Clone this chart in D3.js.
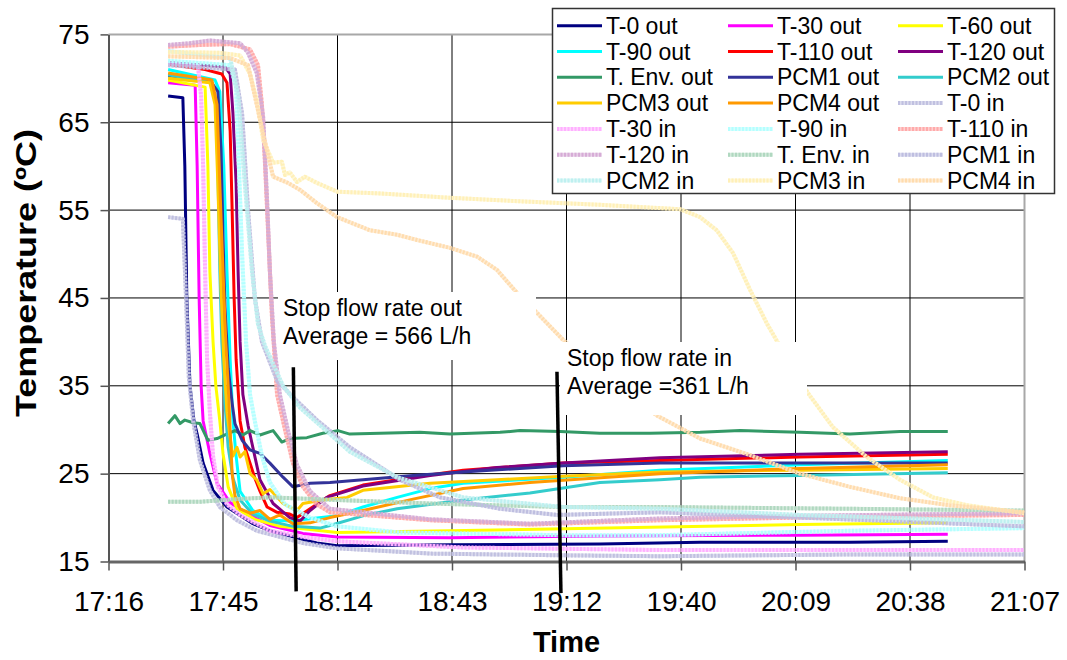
<!DOCTYPE html>
<html><head><meta charset="utf-8">
<script src="https://cdn.jsdelivr.net/npm/d3@7"></script>
<style>body{margin:0;background:#fff} text{font-family:Arial,"Liberation Sans",sans-serif}</style>
</head><body>
<svg id="c" width="1067" height="660"></svg>
<script>
// ---- DATA (time = minutes after 17:00, temperature in ºC) ----
const timeLabels = ["17:16","17:45","18:14","18:43","19:12","19:40","20:09","20:38","21:07"];
const timeTicks = [16.8,45.6,74.4,103.2,132.0,160.8,189.6,218.4,247.2];
const tempTicks = [15,25,35,45,55,65,75];

const T0out = [[31.8,68.0],[35.5,67.8],[36.0,60],[36.5,45],[37.3,35],[38.3,31],[39.1,29.5],[40.6,26.2],[43.1,23.1],[46.6,21.2],[53.1,19.3],[57.4,18.5],[63.2,17.8],[69.2,17.1],[74.3,16.8],[102.7,16.9],[140.4,17.0],[165.6,17.2],[203.3,17.2],[227.9,17.3]];
const T30out = [[31.8,69.5],[38.6,69.2],[39.1,60],[39.6,45],[40.1,35],[40.6,31],[42.3,27.3],[44.1,23.9],[47.4,21.7],[51.6,20.5],[57.4,19.1],[65.7,18.2],[74.3,17.8],[102.7,17.7],[140.4,17.9],[190.7,18.0],[227.9,18.1]];
const T60out = [[31.8,69.8],[41.1,69.0],[41.8,60],[42.3,48],[43.1,40],[43.8,35],[44.8,31],[45.6,27.3],[46.9,23.5],[49.1,21],[53.6,19.8],[59.9,19.0],[74.3,18.3],[102.7,18.5],[153.0,18.9],[190.7,19.2],[227.9,19.4]];
const T90out = [[31.8,71.0],[43.6,69.8],[44.8,68.5],[45.8,60],[46.6,48],[47.4,38],[48.1,31],[48.9,27],[49.9,23],[53.1,20.8],[57.4,19.7],[62.4,19.6],[74.3,20.2],[80.8,21.2],[89.4,22.3],[97.7,23.3],[106.0,23.9],[131.2,24.6],[155.5,25.4],[190.7,26.0],[227.9,26.5]];
const T110out = [[31.8,71.6],[41.1,71.0],[45.3,70.5],[46.6,69.5],[47.4,64],[47.9,55],[48.4,45],[48.9,38],[49.9,31],[51.1,28],[52.4,26.2],[53.6,24.5],[54.9,23],[56.7,21.2],[59.2,20.6],[62.4,20.4],[64.2,20.0],[67.5,21],[72.5,22.5],[80.8,23.7],[93.4,24.6],[106.0,25.4],[131.2,26.2],[155.5,26.5],[190.7,26.9],[227.9,27.2]];
const T120out = [[31.8,71.8],[46.1,71.3],[47.4,70.5],[48.1,66],[48.9,58],[49.4,48],[49.9,40],[50.6,34],[51.9,30.5],[53.1,28],[54.9,24.3],[58.2,21.6],[62.4,20.0],[65.0,19.6],[67.5,20.8],[71.7,22.3],[80.8,23.6],[97.7,24.8],[114.5,25.7],[131.2,26.2],[155.5,26.8],[190.7,27.2],[227.9,27.5]];
const TEnvOut = [[31.8,30.7],[33.5,31.6],[34.8,30.7],[36.0,31.1],[38.1,30.8],[39.8,30.7],[41.8,28.8],[44.1,29.0],[46.1,29.4],[48.6,29.9],[50.6,29.4],[52.4,29.9],[54.9,29.4],[58.2,29.9],[60.4,28.6],[62.4,29.0],[66.7,29.1],[70.7,29.6],[74.5,29.9],[77.5,29.5],[85.1,29.6],[95.1,29.7],[102.7,29.5],[115.3,29.7],[120.3,29.9],[130.4,29.8],[140.4,29.6],[153.0,29.6],[165.6,29.7],[175.7,29.9],[190.7,29.7],[203.3,29.5],[215.9,29.8],[227.9,29.8]];
const PCM1out = [[31.8,70.3],[42.3,69.8],[44.3,68.5],[45.1,62],[45.6,52],[46.1,44],[46.9,37],[47.9,33],[48.6,30.7],[50.4,28.8],[52.4,27.7],[54.9,27.3],[57.4,26.2],[60.7,24.6],[63.2,23.5],[67.5,23.9],[72.5,24.0],[80.8,24.3],[93.4,24.8],[106.0,25.2],[131.2,25.9],[155.5,26.2],[190.7,26.2],[227.9,26.2]];
const PCM2out = [[31.8,70.4],[42.8,69.5],[43.8,67],[44.3,60],[44.8,48],[45.3,40],[46.1,33],[46.9,28],[48.1,24.5],[49.9,22],[53.1,20.4],[57.4,19.6],[63.2,19.0],[70.0,18.8],[72.5,19.1],[80.8,20.2],[89.4,21.0],[106.0,22.0],[122.8,22.8],[140.4,24.0],[155.5,24.3],[165.6,24.6],[190.7,24.8],[227.9,25.1]];
const PCM3out = [[31.8,70.0],[42.3,69.5],[43.6,67],[44.3,58],[45.1,46],[45.8,38],[46.6,32],[47.4,29],[48.1,27],[49.1,28],[49.9,26.9],[51.1,27.5],[52.4,25],[54.1,24.3],[55.7,22.7],[57.4,23.2],[60.7,21.6],[62.4,21.2],[64.2,20.8],[65.7,21.6],[70.7,22.0],[76.8,22.3],[80.8,23.1],[97.7,23.9],[114.5,24.3],[131.2,24.7],[155.5,25.2],[190.7,25.4],[227.9,25.6]];
const PCM4out = [[31.8,70.6],[42.8,69.8],[44.1,67],[44.8,58],[45.6,48],[46.3,40],[46.9,35],[47.4,30],[47.9,25],[48.6,22.5],[49.9,21],[52.4,20.5],[54.9,20.8],[57.4,19.8],[59.9,20.3],[63.2,19.3],[67.5,19.4],[72.5,20.0],[80.8,20.8],[93.4,22.1],[106.0,23.3],[122.8,24.0],[155.5,25.0],[190.7,25.6],[227.9,26.0]];
const T0in = [[31.8,54.2],[35.5,54.0],[36.3,45],[37.0,36],[38.1,31],[39.8,26.5],[42.3,23.1],[44.8,21.2],[49.1,19.7],[54.1,18.5],[59.9,17.8],[65.7,17.1],[74.3,16.5],[97.7,15.9],[131.2,15.7],[155.5,15.6],[203.3,15.8],[247.1,15.8]];
const T30in = [[31.8,71.7],[39.3,71.4],[40.1,68],[40.6,60],[41.1,48],[41.6,38],[42.3,32],[43.1,27],[44.3,23.5],[46.6,21.5],[49.9,20.3],[57.4,18.5],[65.7,17.8],[74.3,17.3],[106.0,16.6],[155.5,16.3],[203.3,16.3],[247.1,16.3]];
const T90in = [[31.8,72.0],[47.4,71.5],[48.9,69],[49.6,60],[50.4,50],[51.4,40],[52.4,34],[53.6,31],[55.4,27],[57.4,24],[61.2,21.5],[67.5,20],[74.3,19],[90.1,18.3],[130.4,18.0],[155.5,18.0],[203.3,18.5],[247.1,18.8]];
const T110in = [[31.8,73.6],[39.8,73.8],[47.4,73.9],[52.4,73.3],[54.4,71.5],[55.4,67],[56.2,60],[56.9,53],[57.9,43],[59.2,34],[61.2,30],[63.2,26.2],[65.7,23.5],[69.2,21.5],[72.5,20.6],[97.7,19.7],[122.8,19.2],[155.5,19.7],[190.7,20.0],[247.1,20.3]];
const T120in = [[31.8,73.8],[37.3,74.0],[42.3,74.3],[49.9,74.0],[51.9,72.9],[54.1,70.6],[55.7,65.6],[56.7,56],[57.4,48],[58.4,40],[59.9,34],[61.9,30],[64.2,26],[67.5,23],[72.5,21],[97.7,19.8],[122.8,19.3],[155.5,19.9],[190.7,20.2],[247.1,20.5]];
const TEnvIn = [[31.8,21.8],[39.8,21.8],[49.1,22.1],[57.4,22.3],[74.3,22.0],[97.7,21.6],[131.2,21.2],[155.5,21.2],[203.3,21.0],[247.1,20.8]];
const PCM1in = [[31.8,71.5],[48.6,71.0],[50.4,66],[51.9,55],[53.6,45],[55.4,40],[59.2,35.6],[63.2,33.7],[69.2,31.1],[77.5,28],[90.1,24.3],[100.2,22.3],[115.3,21],[129.6,20.3],[155.5,20.6],[190.7,20.0],[247.1,19.0]];
const PCM2in = [[31.8,73.1],[47.4,72.3],[49.4,68],[51.1,58],[52.9,48],[54.4,42],[56.2,39.5],[60.7,35],[65.0,32.5],[72.5,29.5],[77.5,27.5],[89.4,24.6],[106.0,22.3],[131.2,21.2],[155.5,21.0],[190.7,20.3],[247.1,19.5]];
const PCM3in = [[31.8,73.0],[44.8,72.9],[49.9,72.6],[52.4,70.5],[54.1,67.5],[55.7,63.0],[58.2,60.4],[60.4,60.5],[61.2,59],[62.4,59.3],[64.2,58.2],[66.2,58.8],[69.2,58.1],[74.3,57.1],[85.1,56.9],[102.7,56.4],[120.3,56.0],[140.4,55.6],[160.6,55.1],[165.6,54.2],[169.8,52.7],[173.9,50.1],[178.2,45.9],[182.4,42.1],[188.2,37.5],[192.7,34.2],[199.0,30.3],[207.5,26.9],[215.9,24.3],[224.2,22.3],[232.8,21.4],[247.1,20.5]];
const PCM4in = [[31.8,72.5],[47.4,72.3],[51.9,71.5],[53.6,68],[55.7,63.7],[58.2,58.8],[61.9,58.1],[65.0,57.3],[69.2,55.8],[74.3,54.2],[82.6,52.7],[89.4,52.2],[94.4,51.6],[102.7,50.7],[109.5,49.7],[114.5,48.2],[119.5,45.6],[124.6,43.3],[131.2,40.2],[143.0,35.5],[154.8,31.6],[165.6,29.0],[178.2,27.1],[190.7,25.0],[203.3,23.5],[215.9,22.2],[228.4,21.4],[247.1,20.6]];

const seriesNames = ["T-0 out","T-30 out","T-60 out","T-90 out","T-110 out","T-120 out","T. Env. out","PCM1 out","PCM2 out","PCM3 out","PCM4 out",
  "T-0 in","T-30 in","T-90 in","T-110 in","T-120 in","T. Env. in","PCM1 in","PCM2 in","PCM3 in","PCM4 in"];
const seriesData = [T0out,T30out,T60out,T90out,T110out,T120out,TEnvOut,PCM1out,PCM2out,PCM3out,PCM4out,
  T0in,T30in,T90in,T110in,T120in,TEnvIn,PCM1in,PCM2in,PCM3in,PCM4in];

// annotation markers (time, temperature)
const stopOutLine = [[63.3,37.1],[64.0,11.6]];
const stopInLine = [[129.6,36.6],[130.6,11.4]];
const stopOutText = ["Stop flow rate out","Average = 566 L/h"];
const stopInText = ["Stop flow rate in","Average =361 L/h"];

// ---- STYLE ----
const seriesColors = ["#000080","#ff00ff","#ffff00","#00ffff","#ff0000","#800080","#339966","#333399","#33cccc","#ffcc00","#ff9900",
  "#c0c0e0","#ffb0ff","#b4ffff","#ffaaaa","#d6acd6","#b0d8c0","#bebee0","#bef0f0","#fff0b8","#ffdcae"];
const isIn = seriesNames.map(n => / in$/.test(n));

const svg = d3.select('#c');
const L=108.5, R=1024.5, T=34.4, B=561.5;
const x = d3.scaleLinear().domain([16.8,247.2]).range([L,R]);
const y = d3.scaleLinear().domain([15,75]).range([B,T]);

svg.append('rect').attr('width',1067).attr('height',660).attr('fill','#fff');

// gridlines
const grid = svg.append('g');
grid.selectAll('line.v').data(timeTicks.slice(1,-1)).join('line')
  .attr('x1',d=>x(d)).attr('x2',d=>x(d)).attr('y1',T).attr('y2',B)
  .attr('stroke','#000').attr('stroke-width',1);
grid.selectAll('line.h').data(tempTicks.slice(1,-1)).join('line')
  .attr('x1',L).attr('x2',R).attr('y1',d=>y(d)).attr('y2',d=>y(d))
  .attr('stroke','#000').attr('stroke-width',1);
grid.append('line').attr('x1',L).attr('x2',R).attr('y1',y(75)).attr('y2',y(75)).attr('stroke','#a8a8a8').attr('stroke-width',2);
grid.append('line').attr('x1',R).attr('x2',R).attr('y1',T).attr('y2',B).attr('stroke','#a8a8a8').attr('stroke-width',2);

// series
const line = d3.line().x(d=>x(d[0])).y(d=>y(d[1]));
const sg = svg.append('g');
seriesData.forEach((d,i)=>{
  if(isIn[i]){
    sg.append('path').attr('d',line(d)).attr('fill','none').attr('stroke',seriesColors[i])
      .attr('stroke-width',4).attr('stroke-opacity',0.55).attr('stroke-linejoin','round');
    sg.append('path').attr('d',line(d)).attr('fill','none').attr('stroke',seriesColors[i])
      .attr('stroke-width',4).attr('stroke-dasharray','2 1.5').attr('stroke-linejoin','round');
  } else {
    sg.append('path').attr('d',line(d)).attr('fill','none').attr('stroke',seriesColors[i])
      .attr('stroke-width',3).attr('stroke-linejoin','round');
  }
});

// axes
const yAxis = svg.append('g').attr('transform',`translate(${L},0)`)
  .call(d3.axisLeft(y).tickValues(tempTicks).tickSize(8).tickSizeOuter(0).tickPadding(11).tickFormat(d3.format('d')));
yAxis.select('.domain').attr('stroke','#555').attr('stroke-width',2);
yAxis.selectAll('.tick line').attr('stroke','#555').attr('stroke-width',1.5);
yAxis.selectAll('text').attr('font-size',28).attr('fill','#000').style('font-family','Arial, Liberation Sans, sans-serif');

const xAxis = svg.append('g').attr('transform',`translate(0,${B})`)
  .call(d3.axisBottom(x).tickValues(timeTicks).tickSize(9).tickSizeOuter(0).tickPadding(21).tickFormat((d,i)=>timeLabels[i]));
xAxis.select('.domain').attr('stroke','#666').attr('stroke-width',3);
xAxis.selectAll('.tick line').attr('stroke','#555').attr('stroke-width',1.5);
xAxis.selectAll('text').attr('font-size',28).attr('fill','#000').style('font-family','Arial, Liberation Sans, sans-serif');

// titles
svg.append('text').attr('transform','translate(36,273) rotate(-90)').attr('text-anchor','middle')
  .attr('font-size',29).attr('font-weight','bold').attr('textLength',288).attr('lengthAdjust','spacingAndGlyphs')
  .text('Temperature (ºC)');
svg.append('text').attr('x',566.5).attr('y',652).attr('text-anchor','middle')
  .attr('font-size',29).attr('font-weight','bold').text('Time');

// annotations
function note(bx,by,bw,bh,tx,lines){
  svg.append('rect').attr('x',bx).attr('y',by).attr('width',bw).attr('height',bh).attr('fill','#fff');
  lines.forEach((s,i)=>svg.append('text').attr('x',tx).attr('y',by+24+i*27.5).attr('font-size',23).text(s));
}
note(278,292,258,68,283,stopOutText);
note(560,342,247,73,567,stopInText);
[stopOutLine,stopInLine].forEach(l=>svg.append('path').attr('d',line(l)).attr('stroke','#000').attr('stroke-width',3.5).attr('fill','none'));

// legend
const lg = svg.append('g');
lg.append('rect').attr('x',552.5).attr('y',8.5).attr('width',502).attr('height',185).attr('fill','#fff').attr('stroke','#333').attr('stroke-width',1.5);
const colX=[557,728,898];
seriesNames.forEach((n,i)=>{
  const r=Math.floor(i/3), c=i%3, cy=25.7+r*25.8;
  if(isIn[i]){
    lg.append('line').attr('x1',colX[c]).attr('x2',colX[c]+45).attr('y1',cy).attr('y2',cy)
      .attr('stroke',seriesColors[i]).attr('stroke-width',4).attr('stroke-opacity',0.55);
    lg.append('line').attr('x1',colX[c]).attr('x2',colX[c]+45).attr('y1',cy).attr('y2',cy)
      .attr('stroke',seriesColors[i]).attr('stroke-width',4).attr('stroke-dasharray','2 1.5');
  } else {
    lg.append('line').attr('x1',colX[c]).attr('x2',colX[c]+45).attr('y1',cy).attr('y2',cy)
      .attr('stroke',seriesColors[i]).attr('stroke-width',3);
  }
  lg.append('text').attr('x',colX[c]+49).attr('y',cy+8).attr('font-size',23).text(n);
});
</script>
</body></html>
